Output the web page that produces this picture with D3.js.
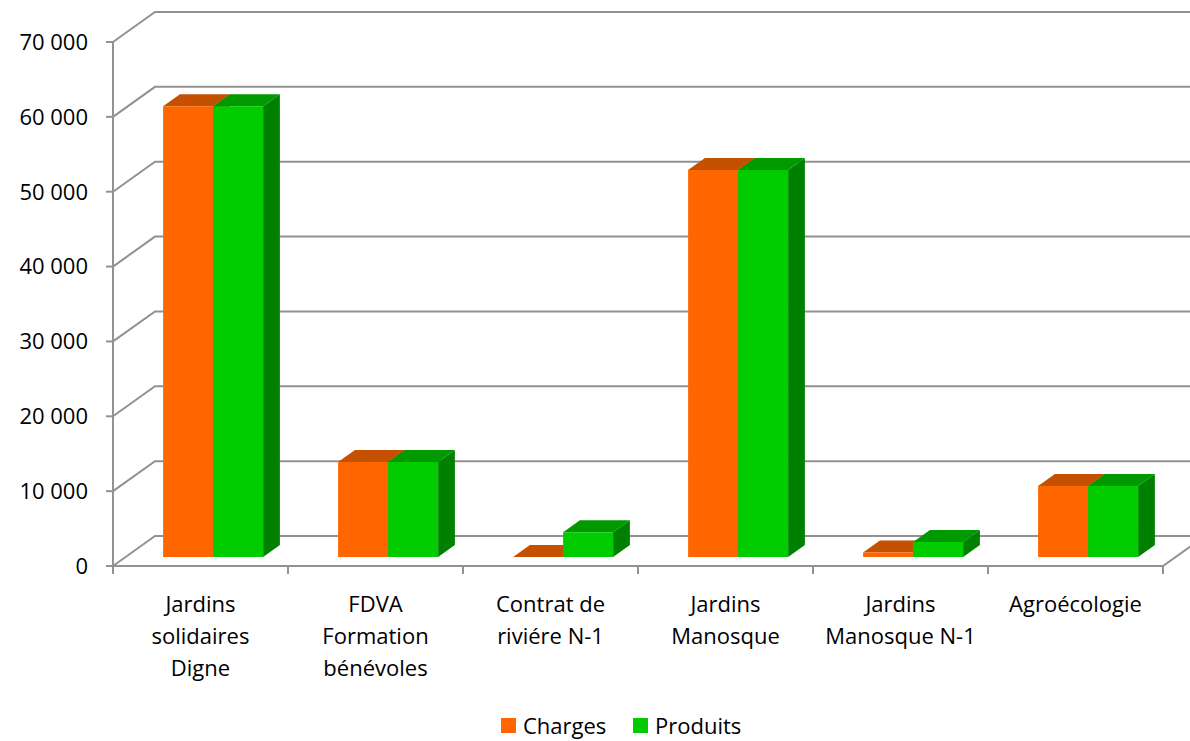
<!DOCTYPE html>
<html>
<head>
<meta charset="utf-8">
<script src="https://cdn.jsdelivr.net/npm/d3@7"></script>
<style>
  body { margin: 0; background: #fff; }
  svg { display: block; font-family: "Open Sans", sans-serif; }
</style>
</head>
<body>
<svg width="1190" height="741"></svg>
<script>
const width = 1190;
const height = 741;

// data
const categories = [
  ["Jardins", "solidaires", "Digne"],
  ["FDVA", "Formation", "bénévoles"],
  ["Contrat de", "riviére N-1"],
  ["Jardins", "Manosque"],
  ["Jardins", "Manosque N-1"],
  ["Agroécologie"]
];
const charges = [60200, 12700, 0, 51700, 600, 9500];
const produits = [60200, 12700, 3300, 51700, 2000, 9500];
const yTicks = [0, 10000, 20000, 30000, 40000, 50000, 60000, 70000];
const seriesNames = ["Charges", "Produits"];

const svg = d3.select("svg");

const x = d3.scaleBand()
  .domain(d3.range(categories.length))
  .range([113, 1163]);

const y = d3.scaleLinear()
  .domain([0, 70000])
  .range([566, 42]);

// depth: 0 = front, 1 = back wall
const depthX = 42, depthY = -30;
function pt(px, py, z) { return [px + z * depthX, py + z * depthY]; }

const grid = "#929292";
const g = svg.append("g");

// back wall gridlines + left wall diagonals
yTicks.forEach(v => {
  const a = pt(113, y(v), 0), b = pt(113, y(v), 1);
  g.append("polyline")
    .attr("points", [a, b, [width + 10, b[1]]].map(p => p.join(",")).join(" "))
    .attr("fill", "none").attr("stroke", grid).attr("stroke-width", 2);
});

// floor front edge and right edge
const fr = pt(1163, y(0), 0), br = pt(1163, y(0), 1);
g.append("polyline")
  .attr("points", [[113, y(0)], fr, br].map(p => p.join(",")).join(" "))
  .attr("fill", "none").attr("stroke", grid).attr("stroke-width", 2);

// vertical axis
g.append("line").attr("x1", 113).attr("x2", 113)
  .attr("y1", y(70000)).attr("y2", y(0))
  .attr("stroke", grid).attr("stroke-width", 2);

// y ticks & labels
yTicks.forEach(v => {
  g.append("line").attr("x1", 106).attr("x2", 113)
    .attr("y1", y(v)).attr("y2", y(v))
    .attr("stroke", grid).attr("stroke-width", 2);
  g.append("text")
    .attr("x", 88).attr("y", y(v)).attr("dy", "0.36em")
    .attr("text-anchor", "end")
    .attr("font-size", 22).attr("fill", "#000")
    .text(d3.format(",")(v).replace(/,/g, " "));
});

// x ticks
d3.range(categories.length + 1).forEach(i => {
  const xx = 113 + i * x.step();
  g.append("line").attr("x1", xx).attr("x2", xx)
    .attr("y1", y(0)).attr("y2", y(0) + 8)
    .attr("stroke", grid).attr("stroke-width", 2);
});

// bars
const z0 = 0.3, z1 = 0.7;
const barW = 50;
const colors = [
  { front: "#ff6600", top: "#c55000", side: "#b34700" },
  { front: "#00cc00", top: "#009900", side: "#008000" }
];

function poly(points, fill) {
  g.append("polygon")
    .attr("points", points.map(p => p.join(",")).join(" "))
    .attr("fill", fill);
}

categories.forEach((c, i) => {
  const x0 = x(i) + (x.bandwidth() - 2 * barW) / 2;
  [charges[i], produits[i]].forEach((v, s) => {
    const l = x0 + s * barW, r = l + barW;
    const yb = y(0), yt = y(v);
    const col = colors[s];
    // side
    poly([pt(r, yb, z0), pt(r, yb, z1), pt(r, yt, z1), pt(r, yt, z0)], col.side);
    // top
    poly([pt(l, yt, z0), pt(r, yt, z0), pt(r, yt, z1), pt(l, yt, z1)], col.top);
    // front
    poly([pt(l, yb, z0), pt(r, yb, z0), pt(r, yt, z0), pt(l, yt, z0)], col.front);
  });
});

// category labels
categories.forEach((lines, i) => {
  const t = g.append("text")
    .attr("x", x(i) + x.bandwidth() / 2)
    .attr("y", 612)
    .attr("text-anchor", "middle")
    .attr("font-size", 22).attr("fill", "#000");
  lines.forEach((ln, k) => {
    t.append("tspan").attr("x", x(i) + x.bandwidth() / 2)
      .attr("dy", k === 0 ? 0 : 32).text(ln);
  });
});

// legend
const legX = [501, 633];
seriesNames.forEach((name, s) => {
  g.append("rect").attr("x", legX[s]).attr("y", 718)
    .attr("width", 15).attr("height", 15)
    .attr("fill", colors[s].front);
  g.append("text").attr("x", legX[s] + 22).attr("y", 734)
    .attr("font-size", 22).attr("fill", "#000").text(name);
});
</script>
</body>
</html>
